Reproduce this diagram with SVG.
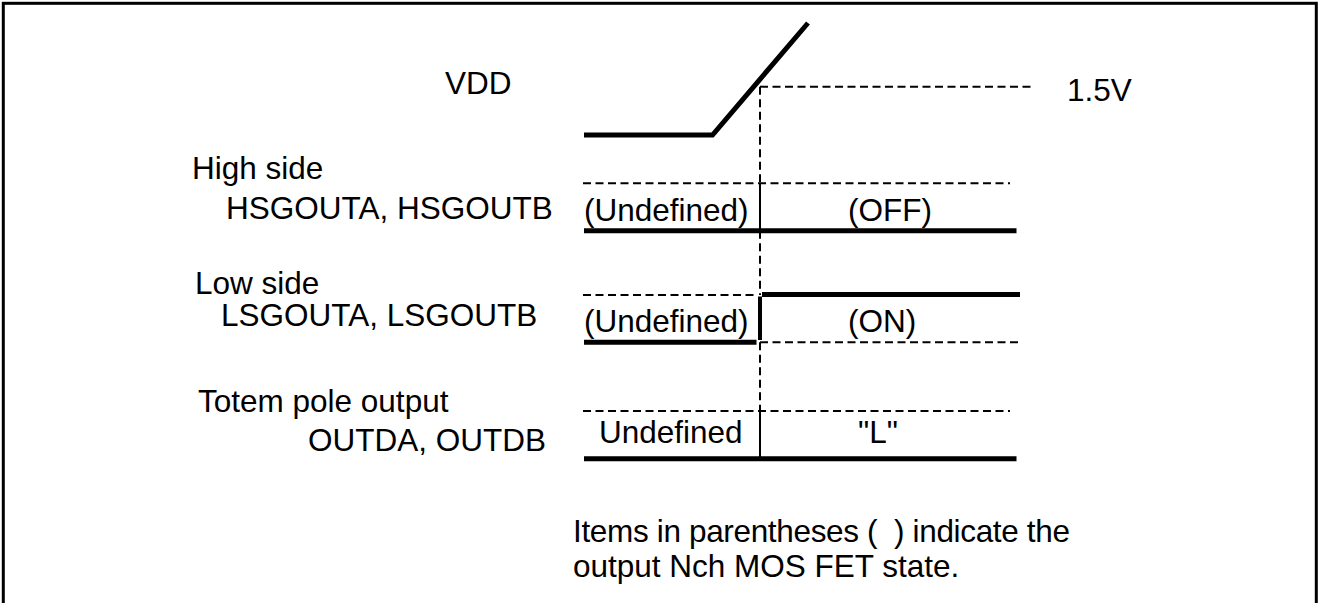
<svg xmlns="http://www.w3.org/2000/svg" width="1320" height="603" viewBox="0 0 1320 603">
<style>
  text { font-family: "Liberation Sans", Arial, sans-serif; font-size: 31.5px; fill: #000; }
  .thick { stroke: #000; stroke-width: 5; fill: none; stroke-linecap: butt; }
  .dash { stroke: #000; stroke-width: 2; fill: none; stroke-dasharray: 8 4.5; }
  .thin { stroke: #000; stroke-width: 2; fill: none; }
</style>
<rect x="0" y="0" width="1320" height="603" fill="#fff"/>
<rect id="frame" x="3.3" y="3.3" width="1313" height="700" fill="none" stroke="#000" stroke-width="3"/>

<g id="labels">
  <text x="445" y="94">VDD</text>
  <text x="1067" y="101">1.5V</text>
  <text x="192" y="179">High side</text>
  <text x="226" y="219">HSGOUTA, HSGOUTB</text>
  <text x="195" y="294">Low side</text>
  <text x="221" y="325.5">LSGOUTA, LSGOUTB</text>
  <text x="198" y="412">Totem pole output</text>
  <text x="308" y="450.5">OUTDA, OUTDB</text>
  <text x="573" y="542" xml:space="preserve" textLength="497" lengthAdjust="spacing">Items in parentheses (  ) indicate the</text>
  <text x="573" y="577">output Nch MOS FET state.</text>
</g>

<g id="vdd">
  <polyline class="thick" points="584,135 712.5,135 808,23"/>
  <line class="dash" x1="760" y1="86.7" x2="1032" y2="86.7"/>
</g>

<g id="highside">
  <line class="dash" x1="583" y1="183.3" x2="1010" y2="183.3"/>
  <line class="thick" x1="584" y1="230.7" x2="1016.5" y2="230.7"/>
  <text x="584" y="221">(Undefined)</text>
  <text x="848" y="221">(OFF)</text>
</g>

<g id="lowside">
  <line class="dash" x1="583" y1="295" x2="757" y2="295"/>
  <line class="thick" x1="762" y1="294.5" x2="1020" y2="294.5"/>
  <line x1="760" y1="296.5" x2="760" y2="340" stroke="#000" stroke-width="4"/>
  <line class="thick" x1="584" y1="342.3" x2="756.5" y2="342.3"/>
  <line class="dash" x1="760" y1="342.3" x2="1020" y2="342.3"/>
  <text x="584" y="332">(Undefined)</text>
  <text x="848" y="332">(ON)</text>
</g>

<g id="totem">
  <line class="dash" x1="583" y1="411" x2="1010" y2="411"/>
  <line class="thick" x1="584" y1="458.7" x2="1016.5" y2="458.7"/>
  <text x="599" y="443">Undefined</text>
  <text x="858" y="443">"L"</text>
</g>

<g id="connectors">
  <line class="dash" x1="760" y1="86.7" x2="760" y2="183.3"/>
  <line class="thin" x1="760" y1="183.3" x2="760" y2="230.7"/>
  <line class="dash" x1="760" y1="230.7" x2="760" y2="295"/>
  <line class="dash" x1="760" y1="342.3" x2="760" y2="411"/>
  <line class="thin" x1="760" y1="411" x2="760" y2="458.7"/>
</g>
</svg>
